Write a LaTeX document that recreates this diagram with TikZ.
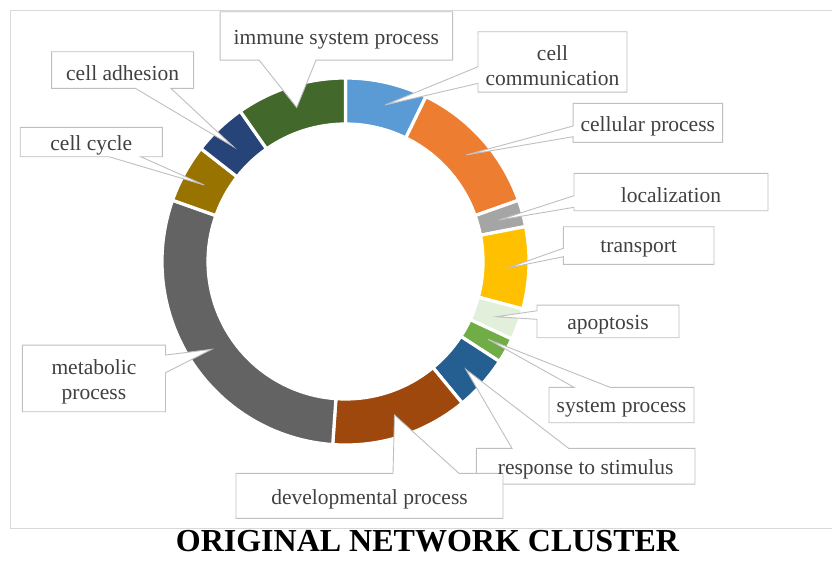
\documentclass[tikz,border=0pt]{standalone}
\usepackage{fontspec}
\setmainfont{Liberation Serif}
\usepackage{xcolor}
\definecolor{commblue}{HTML}{5B9BD5}
\definecolor{cellorange}{HTML}{ED7D31}
\definecolor{locgray}{HTML}{A5A5A5}
\definecolor{transyellow}{HTML}{FFC000}
\definecolor{apopgreen}{HTML}{E2EFDA}
\definecolor{sysgreen}{HTML}{70AD47}
\definecolor{respblue}{HTML}{255E91}
\definecolor{devbrown}{HTML}{9E480E}
\definecolor{metagray}{HTML}{636363}
\definecolor{cycleolive}{HTML}{997300}
\definecolor{adhnavy}{HTML}{264478}
\definecolor{immgreen}{HTML}{43682B}
\definecolor{labeltext}{HTML}{404040}
\definecolor{calloutgray}{HTML}{BFBFBF}
\definecolor{framegray}{HTML}{D9D9D9}
\usepackage{tikz}
\pgfdeclarelayer{ring}
\pgfdeclarelayer{callouts}
\pgfsetlayers{ring,callouts,main}

\begin{document}
\begin{tikzpicture}[
  x=1pt, y=-1pt,
  box/.style={inner sep=0pt, outer sep=0pt},
  lbl/.style={font=\fontsize{21.5}{25}\selectfont, text=labeltext,
              align=center, inner sep=0pt, yshift=-3.5pt},
  callout/.style={fill=white, draw=calloutgray, line width=0.9pt},
  slice/.style={draw=white, line width=3.2pt}
]
  \useasboundingbox (0,0) rectangle (832,560);
  \draw[framegray, line width=0.8pt] (832,10) -- (10.5,10) -- (10.5,528) -- (832,528);

  % donut ring, clockwise from the top
  \begin{pgfonlayer}{ring}
  \begin{scope}[shift={(345.5,261.5)}, yscale=-1]
    \foreach \a/\b/\c in {90/64/commblue, 64/19.5/cellorange, 19.5/11/locgray,
        11/-15/transyellow, -15/-25/apopgreen, -25/-33/sysgreen,
        -33/-50.5/respblue, -50.5/-94/devbrown, -94/-199.5/metagray,
        -199.5/-218/cycleolive, -218/-235/adhnavy, -235/-270/immgreen}
      \fill[slice, fill=\c] (\a:183.5) arc[start angle=\a, end angle=\b, radius=183.5]
        -- (\b:137.5) arc[start angle=\b, end angle=\a, radius=137.5] -- cycle;
  \end{scope}
  \end{pgfonlayer}

  % label boxes
  \node[box, minimum width=149pt, minimum height=60.3pt] (comm) at (552.5,61.9) {};
  \node[box, minimum width=149.5pt, minimum height=39pt] (cellp) at (647.8,122.8) {};
  \node[box, minimum width=194pt, minimum height=37.4pt] (loc) at (671,192) {};
  \node[box, minimum width=150.6pt, minimum height=37.6pt] (trans) at (638.7,245.5) {};
  \node[box, minimum width=142pt, minimum height=32.7pt] (apop) at (608,321.4) {};
  \node[box, minimum width=145pt, minimum height=35.4pt] (sysp) at (621.5,405) {};
  \node[box, minimum width=218.6pt, minimum height=35.7pt] (resp) at (585.7,466.2) {};
  \node[box, minimum width=267pt, minimum height=45pt] (devp) at (369.5,495.8) {};
  \node[box, minimum width=143.2pt, minimum height=66.7pt] (meta) at (93.9,378.4) {};
  \node[box, minimum width=142.1pt, minimum height=29.4pt] (cyc) at (91.3,142) {};
  \node[box, minimum width=142.1pt, minimum height=36.6pt] (adh) at (122.6,70) {};
  \node[box, minimum width=232.5pt, minimum height=48.3pt] (imm) at (336.3,35.9) {};

  % label texts
  \node[lbl] (commtxt) at (comm) {cell\\communication};
  \node[lbl] (cellptxt) at (cellp) {cellular process};
  \node[lbl] (loctxt) at (loc) {localization};
  \node[lbl] (transtxt) at (trans) {transport};
  \node[lbl] (apoptxt) at (apop) {apoptosis};
  \node[lbl] (sysptxt) at (sysp) {system process};
  \node[lbl] (resptxt) at (resp) {response to stimulus};
  \node[lbl] (devptxt) at (devp) {developmental process};
  \node[lbl] (metatxt) at (meta) {metabolic\\process};
  \node[lbl] (cyctxt) at (cyc) {cell cycle};
  \node[lbl] (adhtxt) at (adh) {cell adhesion};
  \node[lbl] (immtxt) at (imm) {immune system process};

  \coordinate (commtip) at (385,105);
  \coordinate (cellptip) at (466,155);
  \coordinate (loctip) at (499,220);
  \coordinate (transtip) at (506.6,268.3);
  \coordinate (apoptip) at (496.7,316.7);
  \coordinate (sysptip) at (488,339.3);
  \coordinate (resptip) at (465.8,369.3);
  \coordinate (devptip) at (394.5,415);
  \coordinate (metatip) at (211.7,349.3);
  \coordinate (cyctip) at (204.2,185);
  \coordinate (adhtip) at (233.4,146.7);
  \coordinate (immtip) at (296.7,107.5);

  % callout boxes with their wedges
  \begin{pgfonlayer}{callouts}
  \path[callout] (comm.north west) -- (comm.north east) -- (comm.south east) -- (comm.south west)
    -- ([yshift=-51.6pt]comm.north west) -- (commtip) -- ([yshift=-35pt]comm.north west) -- cycle;
  \path[callout] (cellp.north west) -- (cellp.north east) -- (cellp.south east) -- (cellp.south west)
    -- ([yshift=-33.4pt]cellp.north west) -- (cellptip) -- ([yshift=-22.7pt]cellp.north west) -- cycle;
  \path[callout] (loc.north west) -- (loc.north east) -- (loc.south east) -- (loc.south west)
    -- ([yshift=-34pt]loc.north west) -- (loctip) -- ([yshift=-22.4pt]loc.north west) -- cycle;
  \path[callout] (trans.north west) -- (trans.north east) -- (trans.south east) -- (trans.south west)
    -- ([yshift=-30pt]trans.north west) -- (transtip) -- ([yshift=-21.6pt]trans.north west) -- cycle;
  \path[callout] (apop.north west) -- (apop.north east) -- (apop.south east) -- (apop.south west)
    -- ([yshift=-14.3pt]apop.north west) -- (apoptip) -- ([yshift=-5.7pt]apop.north west) -- cycle;
  \path[callout] (sysp.north west) -- ([xshift=25pt]sysp.north west) -- (sysptip)
    -- ([xshift=61pt]sysp.north west) -- (sysp.north east) -- (sysp.south east) -- (sysp.south west) -- cycle;
  \path[callout] (resp.north west) -- ([xshift=35.6pt]resp.north west) -- (resptip)
    -- ([xshift=92.3pt]resp.north west) -- (resp.north east) -- (resp.south east) -- (resp.south west) -- cycle;
  \path[callout] (devp.north west) -- ([xshift=157pt]devp.north west) -- (devptip)
    -- ([xshift=223pt]devp.north west) -- (devp.north east) -- (devp.south east) -- (devp.south west) -- cycle;
  \path[callout] (meta.north west) -- (meta.north east) -- ([yshift=-10pt]meta.north east) -- (metatip)
    -- ([yshift=-27.7pt]meta.north east) -- (meta.south east) -- (meta.south west) -- cycle;
  \path[callout] (cyc.north west) -- (cyc.north east) -- (cyc.south east) -- ([xshift=120.4pt]cyc.south west)
    -- (cyctip) -- ([xshift=88.6pt]cyc.south west) -- (cyc.south west) -- cycle;
  \path[callout] (adh.north west) -- (adh.north east) -- (adh.south east) -- ([xshift=119.3pt]adh.south west)
    -- (adhtip) -- ([xshift=83.8pt]adh.south west) -- (adh.south west) -- cycle;
  \path[callout] (imm.north west) -- (imm.north east) -- (imm.south east) -- ([xshift=96pt]imm.south west)
    -- (immtip) -- ([xshift=39pt]imm.south west) -- (imm.south west) -- cycle;
  \end{pgfonlayer}

  \node[font=\fontsize{32}{36}\selectfont\bfseries, anchor=base, inner sep=0pt] (title) at (427.5,551.5) {ORIGINAL NETWORK CLUSTER};
\end{tikzpicture}
\end{document}
